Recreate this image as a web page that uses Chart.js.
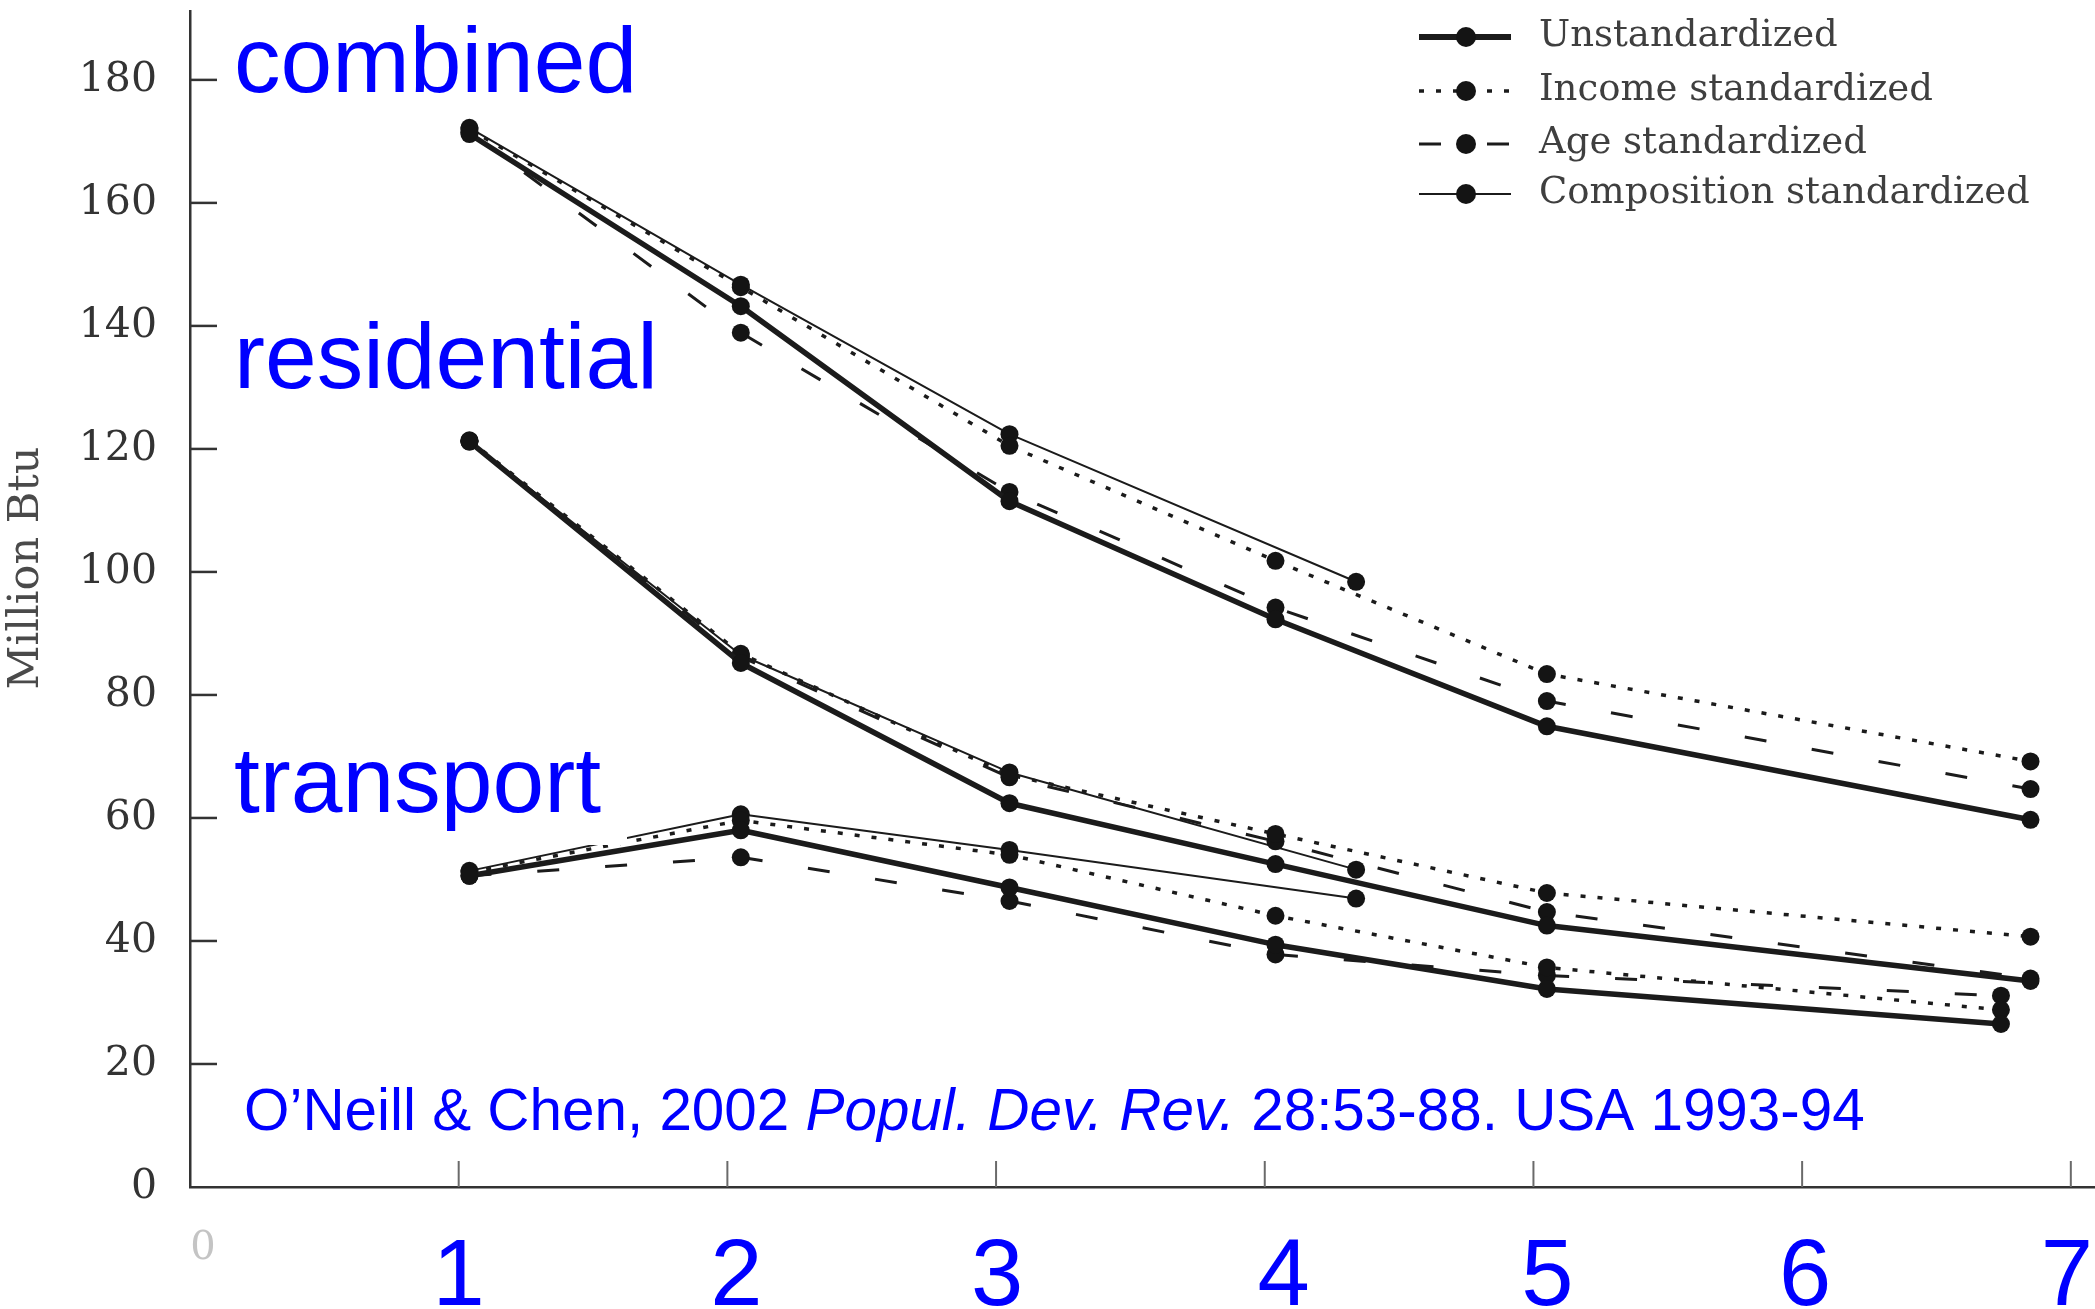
<!DOCTYPE html>
<html>
<head>
<meta charset="utf-8">
<title>Household energy use by household size</title>
<script src="https://cdn.jsdelivr.net/npm/chart.js@4.4.1/dist/chart.umd.min.js"></script>
<style>
  html, body { margin: 0; padding: 0; background: #ffffff; }
  #wrap { width: 2095px; height: 1309px; position: relative; }
  canvas { display: block; }
</style>
</head>
<body>
<div id="wrap"><canvas id="chart" width="2095" height="1309"></canvas></div>
<script>
// ---- data -------------------------------------------------------------
// Household size (x) at which each group mean is plotted
const householdSize            = [1.04, 2.05, 3.05, 4.04, 5.05, 6.85];
const householdSizeTransport   = [1.04, 2.05, 3.05, 4.04, 5.05, 6.74];
const householdSizeComposition = [1.04, 2.05, 3.05, 4.34];

const seriesNames = ['Unstandardized', 'Income standardized', 'Age standardized', 'Composition standardized'];
const groupNames  = ['combined', 'residential', 'transport'];

// Energy use per capita, million Btu
const combinedUnstandardized    = [171.2, 143.2, 111.5, 92.3, 74.9, 59.7];
const combinedIncome            = [172.0, 146.3, 120.5, 101.8, 83.4, 69.2];
const combinedAge               = [171.5, 138.9, 113.0, 94.2, 79.0, 64.7];
const combinedComposition       = [172.2, 146.7, 122.4, 98.4];

const residentialUnstandardized = [121.2, 85.2, 62.4, 52.5, 42.5, 33.5];
const residentialIncome         = [121.4, 86.7, 67.0, 57.4, 47.8, 40.7];
const residentialAge            = [121.2, 86.2, 66.6, 56.2, 44.7, 33.9];
const residentialComposition    = [121.3, 86.5, 67.4, 51.6];

const transportUnstandardized   = [50.6, 58.0, 48.7, 39.4, 32.2, 26.5];
const transportIncome           = [51.2, 59.6, 54.0, 44.1, 35.7, 28.8];
const transportAge              = [50.6, 53.6, 46.5, 37.8, 34.4, 31.1];
const transportComposition      = [51.4, 60.6, 54.8, 46.9];

const xTickValues = [0, 1, 2, 3, 4, 5, 6, 7];
const xTickLabels = ['0', '1', '2', '3', '4', '5', '6', '7'];
const yTickValues = [0, 20, 40, 60, 80, 100, 120, 140, 160, 180];
const yAxisTitle  = 'Million Btu';
const citationPlain1 = 'O\u2019Neill & Chen, 2002 ';
const citationItalic = 'Popul. Dev. Rev.';
const citationPlain2 = ' 28:53-88. USA 1993-94';

// ---- styling ----------------------------------------------------------
const INK = '#1b1b1b';
const AXIS = '#333333';
const BLUE = '#0000ff';
const SERIF = '"DejaVu Serif", serif';
const SANS = '"Liberation Sans", Arial, sans-serif';

// small horizontal nudges (in axis units) for the hand-placed x labels
const xLabelNudge = [0.048, 0, 0.034, 0.004, 0.07, 0.052, 0.011, -0.015];

const seriesStyles = [
  { borderWidth: 5.5, borderDash: [] },        // unstandardized: heavy solid
  { borderWidth: 3.5, borderDash: [5, 12] },    // income: dotted
  { borderWidth: 3,   borderDash: [22, 46] },   // age: long dash
  { borderWidth: 2,   borderDash: [] }          // composition: thin solid
];

const groupSeries = {
  combined:    [combinedUnstandardized, combinedIncome, combinedAge, combinedComposition],
  residential: [residentialUnstandardized, residentialIncome, residentialAge, residentialComposition],
  transport:   [transportUnstandardized, transportIncome, transportAge, transportComposition]
};

function xFor(group, seriesIndex) {
  if (seriesIndex === 3) return householdSizeComposition;
  return group === 'transport' ? householdSizeTransport : householdSize;
}

const datasets = [];
groupNames.forEach(group => {
  groupSeries[group].forEach((values, s) => {
    const xs = xFor(group, s);
    datasets.push({
      label: group + ' \u2013 ' + seriesNames[s],
      data: values.map((v, i) => ({ x: xs[i], y: v })),
      borderColor: INK,
      borderWidth: seriesStyles[s].borderWidth,
      borderDash: seriesStyles[s].borderDash,
      borderCapStyle: 'butt',
      borderJoinStyle: 'round',
      tension: 0,
      fill: false,
      pointRadius: 9,
      pointHoverRadius: 9,
      pointBackgroundColor: '#141414',
      pointBorderWidth: 0
    });
  });
});

// ---- plugins ----------------------------------------------------------
// Tick marks pointing into the plot area
const inwardTicks = {
  id: 'inwardTicks',
  afterDatasetsDraw(chart) {
    const { ctx, chartArea, scales: { x, y } } = chart;
    ctx.save();
    ctx.lineCap = 'butt';
    ctx.strokeStyle = AXIS;
    ctx.lineWidth = 2.5;
    yTickValues.forEach(v => {
      if (v === 0) return;
      const py = y.getPixelForValue(v);
      ctx.beginPath();
      ctx.moveTo(chartArea.left, py);
      ctx.lineTo(chartArea.left + 27, py);
      ctx.stroke();
    });
    ctx.strokeStyle = '#6a6a6a';
    ctx.lineWidth = 2;
    xTickValues.forEach(v => {
      if (v === 0) return;
      const px = x.getPixelForValue(v);
      ctx.beginPath();
      ctx.moveTo(px, chartArea.bottom);
      ctx.lineTo(px, chartArea.bottom - 26);
      ctx.stroke();
    });
    ctx.restore();
  }
};

// Group names, source note, legend and y-axis title
const annotations = {
  id: 'annotations',
  afterDatasetsDraw(chart) {
    const { ctx } = chart;
    ctx.save();

    // white panel behind the "transport" label
    ctx.fillStyle = '#ffffff';
    ctx.fillRect(226, 736, 401, 109);

    ctx.fillStyle = BLUE;
    ctx.textBaseline = 'alphabetic';
    ctx.textAlign = 'left';
    ctx.font = '93px ' + SANS;
    ctx.fillText(groupNames[0], 234, 92);
    ctx.fillText(groupNames[1], 234, 388);
    ctx.fillText(groupNames[2], 234, 812);

    // source note, journal title in italics
    ctx.font = '58.4px ' + SANS;
    let cx = 244;
    const cy = 1130;
    ctx.fillText(citationPlain1, cx, cy);
    cx += ctx.measureText(citationPlain1).width;
    ctx.font = 'italic 58.4px ' + SANS;
    ctx.fillText(citationItalic, cx, cy);
    cx += ctx.measureText(citationItalic).width;
    ctx.font = '58.4px ' + SANS;
    ctx.fillText(citationPlain2, cx, cy);

    // legend
    const rowY = [37, 91, 144, 194];
    const lx0 = 1419, lx1 = 1511, dotX = 1466;
    seriesNames.forEach((name, i) => {
      const st = seriesStyles[i];
      const yy = rowY[i];
      ctx.strokeStyle = INK;
      ctx.lineWidth = st.borderWidth + (i === 0 ? 0.5 : 0);
      ctx.setLineDash(st.borderDash);
      ctx.lineDashOffset = 0;
      ctx.beginPath();
      ctx.moveTo(lx0, yy);
      ctx.lineTo(lx1, yy);
      ctx.stroke();
      ctx.setLineDash([]);
      ctx.fillStyle = '#141414';
      ctx.beginPath();
      ctx.arc(dotX, yy, 10, 0, Math.PI * 2);
      ctx.fill();
      ctx.fillStyle = '#3f3f3f';
      ctx.font = '37px ' + SERIF;
      ctx.fillText(name, 1539, yy + 9);
    });

    // y-axis title
    ctx.translate(27, 568);
    ctx.rotate(-Math.PI / 2);
    ctx.textAlign = 'center';
    ctx.textBaseline = 'middle';
    ctx.fillStyle = '#4a4a4a';
    ctx.font = '43px ' + SERIF;
    ctx.fillText(yAxisTitle, 0, 0);

    ctx.restore();
  }
};

// ---- chart ------------------------------------------------------------
new Chart(document.getElementById('chart'), {
  type: 'line',
  data: { datasets },
  plugins: [inwardTicks, annotations],
  options: {
    responsive: false,
    animation: false,
    events: [],
    layout: { autoPadding: false, padding: { top: 11, right: 0, bottom: 0, left: 0 } },
    plugins: { legend: { display: false }, tooltip: { enabled: false } },
    scales: {
      x: {
        type: 'linear',
        position: 'bottom',
        min: 0,
        max: 7.09,
        // label anchors; the tick marks themselves are drawn at xTickValues
        afterBuildTicks: scale => { scale.ticks = xTickValues.map((v, i) => ({ value: v + xLabelNudge[i] })); },
        afterFit: scale => { scale.height = 122; scale.paddingLeft = 0; scale.paddingRight = 0; },
        grid: { display: false, drawTicks: false },
        border: { display: true, color: AXIS, width: 2.5 },
        ticks: {
          padding: 36,
          autoSkip: false,
          maxRotation: 0,
          callback: (value) => xTickLabels[Math.round(value)],
          color: ctx => (ctx.tick && Math.round(ctx.tick.value) === 0) ? '#c4c4c4' : BLUE,
          font: ctx => (ctx.tick && Math.round(ctx.tick.value) === 0)
            ? { family: SERIF, size: 40, lineHeight: 1.3 }
            : { family: SANS, size: 94, lineHeight: 1.2 }
        }
      },
      y: {
        type: 'linear',
        position: 'left',
        min: 0,
        max: 191.2,
        afterBuildTicks: scale => { scale.ticks = yTickValues.map(v => ({ value: v })); },
        afterFit: scale => { scale.width = 190; scale.paddingTop = 0; scale.paddingBottom = 0; },
        grid: { display: false, drawTicks: false },
        border: { display: true, color: AXIS, width: 2.5 },
        ticks: {
          padding: 33,
          autoSkip: false,
          color: '#333333',
          font: { family: SERIF, size: 41 },
          callback: (value) => String(value)
        }
      }
    }
  }
});
</script>
</body>
</html>
